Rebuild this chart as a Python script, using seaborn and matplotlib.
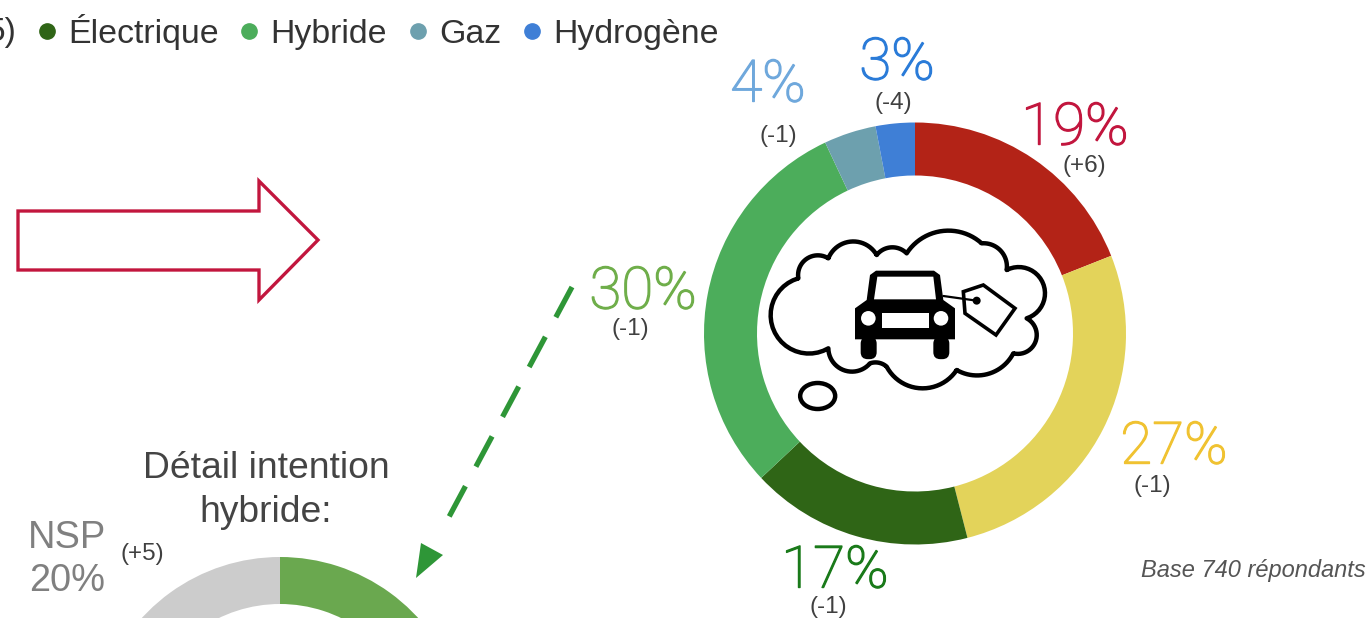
import numpy as np
import matplotlib
matplotlib.use('Agg')
import matplotlib.pyplot as plt
import matplotlib.patheffects as pe
from matplotlib.lines import Line2D
from matplotlib.patches import Polygon, Circle, Ellipse, Rectangle, FancyBboxPatch
import seaborn as sns

# intention d'achat
categories = ['Essence', 'Diesel', 'Électrique', 'Hybride', 'Gaz', 'Hydrogène']
parts = [19, 27, 17, 30, 4, 3]
deltas = ['(+6)', '(-1)', '(-1)', '(-1)', '(-1)', '(-4)']
couleurs = ['#B32317', '#E3D35A', '#2F6516', '#4CAD5B', '#6DA0AE', '#3F7FD6']
couleurs_txt = ['#C2163E', '#F0C231', '#1A7A1A', '#6FAE4A', '#6FA8DC', '#2A7BD8']
legende = ['Électrique', 'Hybride', 'Gaz', 'Hydrogène']

# detail hybride (seule la partie haute est visible)
parts_hybride = [80, 20]
couleurs_hybride = ['#6AA84F', '#CCCCCC']

sns.set_theme(style='white')
plt.rcParams['font.family'] = ['Liberation Sans', 'DejaVu Sans']

W, H = 1370, 618
fig = plt.figure(figsize=(W / 100, H / 100), dpi=100)


def donut(cx, cy, r, largeur, valeurs, cols):
    ax = fig.add_axes([(cx - r) / W, 1 - (cy + r) / H, 2 * r / W, 2 * r / H])
    ax.pie(valeurs, colors=cols, startangle=90, counterclock=False, radius=1,
           wedgeprops={'width': largeur / r, 'linewidth': 0})
    ax.set_xlim(-1, 1)
    ax.set_ylim(-1, 1)
    ax.axis('off')


donut(915, 333.5, 211, 53, parts, couleurs)
donut(280, 744, 187, 47, parts_hybride, couleurs_hybride)

# calque en pixels pour textes et dessins
ax = fig.add_axes([0, 0, 1, 1], facecolor='none')
ax.set_xlim(0, W)
ax.set_ylim(H, 0)
ax.axis('off')

pos_pct = [(1075, 129), (1174, 448), (835, 572), (643, 293), (768, 86), (897, 64)]
pos_delta = [(1084, 166), (1152, 486), (828, 607), (630, 329), (778, 136), (893, 103)]
for i in range(len(parts)):
    t = ax.text(*pos_pct[i], f'{parts[i]}%', color=couleurs_txt[i], fontsize=42, family='Roboto', weight='light',
                ha='center', va='center')
    # la graisse dispo est trop fine, on epaissit un peu
    t.set_path_effects([pe.withStroke(linewidth=1.0, foreground=couleurs_txt[i])])
    ax.text(*pos_delta[i], deltas[i], color='#404040', fontsize=17.5, ha='center', va='center')

# legende, coupee a gauche dans l'original
ax.text(-13, 32, '5)', color='#333333', fontsize=24, ha='left', va='center')
handles = [Line2D([], [], ls='', marker='o', ms=11, color=couleurs[categories.index(c)]) for c in legende]
ax.legend(handles, legende, ncols=4, frameon=False, fontsize=24.4, labelcolor='#333333',
          handletextpad=0.12, columnspacing=0.41, handlelength=1.0,
          loc='center left', bbox_to_anchor=(30 / W, 1 - 32 / H), borderpad=0, borderaxespad=0)

# fleche rouge
ax.add_patch(Polygon([(18, 211), (259, 211), (259, 181), (318, 240), (259, 300), (259, 270), (18, 270)],
                     closed=True, fc='white', ec='#C2163E', lw=2.4, joinstyle='miter'))

# fleche verte pointillee
ax.plot([572, 442], [287, 530], color='#2E9637', lw=3.8, dashes=(6.5, 4.2))
ax.add_patch(Polygon([(421, 543), (443, 555), (416, 578)], closed=True, fc='#2E9637', ec='none'))

# bloc detail
ax.text(266, 468, 'Détail intention', color='#444444', fontsize=26.8, ha='center', va='center')
ax.text(266, 512, 'hybride:', color='#444444', fontsize=26.8, ha='center', va='center')
ax.text(67, 538, 'NSP', color='#808080', fontsize=27.4, ha='center', va='center')
ax.text(67, 581, '20%', color='#808080', fontsize=27.4, ha='center', va='center')
ax.text(142, 554, '(+5)', color='#404040', fontsize=17.5, ha='center', va='center')
ax.text(1366, 571, 'Base 740 répondants', color='#555555', fontsize=17, style='italic', ha='right', va='center')


# icone voiture dans la bulle, coordonnees du zoom (x3) depuis (750, 210)
def pz(x, y):
    return 750 + x / 3, 210 + y / 3


def arc(a, m, b, n=24):
    # arc de cercle passant par a, m, b
    (ax_, ay), (mx, my), (bx, by) = a, m, b
    d = 2 * (ax_ * (my - by) + mx * (by - ay) + bx * (ay - my))
    ux = ((ax_**2 + ay**2) * (my - by) + (mx**2 + my**2) * (by - ay) + (bx**2 + by**2) * (ay - my)) / d
    uy = ((ax_**2 + ay**2) * (bx - mx) + (mx**2 + my**2) * (ax_ - bx) + (bx**2 + by**2) * (mx - ax_)) / d
    t0 = np.arctan2(ay - uy, ax_ - ux)
    tm = np.arctan2(my - uy, mx - ux)
    t1 = np.arctan2(by - uy, bx - ux)
    d1 = (tm - t0 + np.pi) % (2 * np.pi) - np.pi
    sens = 1 if d1 > 0 else -1
    total = (sens * (t1 - t0)) % (2 * np.pi)
    r = np.hypot(ax_ - ux, ay - uy)
    t = t0 + sens * np.linspace(0, total, n)
    return np.column_stack([ux + r * np.cos(t), uy + r * np.sin(t)])


noeuds = [(145, 205), (235, 145), (380, 135), (470, 130), (695, 100), (770, 180),
          (830, 325), (790, 430), (620, 480), (410, 470), (360, 460), (235, 415)]
passages = [(160, 155), (300, 95), (425, 112), (590, 62), (750, 120), (885, 250),
            (860, 370), (720, 490), (520, 535), (385, 458), (280, 480), (62, 310)]
contour = np.vstack([arc(pz(*noeuds[i]), pz(*passages[i]), pz(*noeuds[(i + 1) % 12])) for i in range(12)])
ax.add_patch(Polygon(contour, closed=True, fc='white', ec='black', lw=3.2, joinstyle='round'))
ax.add_patch(Ellipse(pz(203, 558), 35, 26, fc='white', ec='black', lw=3.2))

# ficelle et etiquette
ax.add_patch(Polygon([pz(640, 245), pz(700, 225), pz(795, 295), pz(738, 375), pz(645, 310)],
                     closed=True, fc='white', ec='black', lw=2.6))
ax.add_patch(Circle(pz(680, 272), 4, fc='black', ec='none'))
ax.plot(*zip(pz(580, 258), pz(680, 272)), color='black', lw=1.6)

# voiture
ax.add_patch(Polygon([pz(315, 295), pz(350, 270), pz(360, 195), pz(378, 182), pz(552, 182), pz(570, 195),
                      pz(580, 270), pz(615, 295), pz(615, 388), pz(315, 388)], closed=True, fc='black', ec='none'))
ax.add_patch(Polygon([pz(372, 268), pz(382, 200), pz(550, 200), pz(558, 268)], closed=True, fc='white', ec='none'))
ax.add_patch(Circle(pz(355, 325), 7.3, fc='white', ec='none'))
ax.add_patch(Circle(pz(573, 325), 7.3, fc='white', ec='none'))
x0, y0 = pz(395, 308)
ax.add_patch(Rectangle((x0, y0), 142 / 3, 47 / 3, fc='white', ec='none'))
for xr in (332, 550):
    x0, y0 = pz(xr, 380)
    ax.add_patch(FancyBboxPatch((x0 + 4, y0 + 4), 8, 14.5, boxstyle='round,pad=4,rounding_size=7', fc='black', ec='none'))

fig.savefig('out.png', dpi=100, facecolor='white')
